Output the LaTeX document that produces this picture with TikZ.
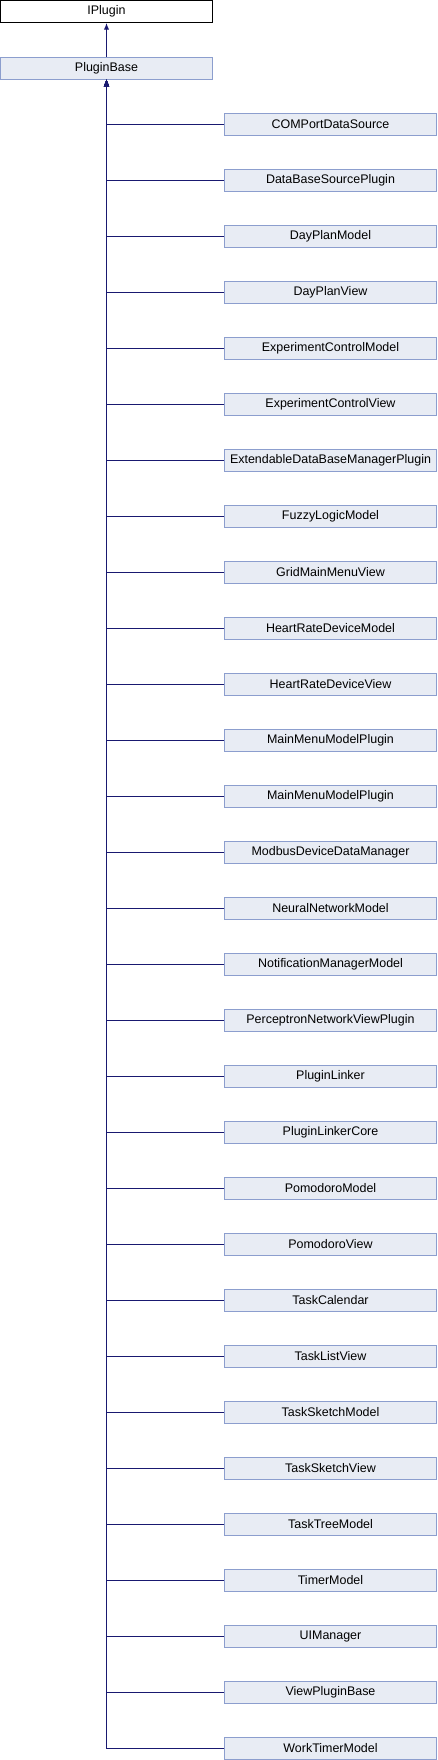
\documentclass[tikz,border=0pt]{standalone}
\usepackage{xcolor}
\usepackage{fontspec}
\setmainfont{Liberation Sans}
\usepackage{tikz}
\usetikzlibrary{arrows.meta}

\definecolor{clsfill}{RGB}{232,236,244}
\definecolor{clsdraw}{RGB}{140,158,206}
\definecolor{edgeblue}{RGB}{25,25,112}

\begin{document}
\begin{tikzpicture}[x=0.75pt,y=0.75pt,yscale=-1,xscale=1,
  iface/.style={draw=black,fill=white,line width=0.75pt,minimum width=159pt,minimum height=16.5pt,inner sep=0pt,font=\fontsize{9.35}{11}\selectfont},
  cls/.style={draw=clsdraw,fill=clsfill,line width=0.75pt,minimum width=159pt,minimum height=16.5pt,inner sep=0pt,font=\fontsize{9.35}{11}\selectfont},
  edge/.style={draw=edgeblue,line width=0.75pt,-{Latex[length=5pt,width=4pt]}}]
\useasboundingbox (0,0) rectangle (438,1760);

% Text Node
\node [iface] (iplugin) at (106.5,11.5) {IPlugin};
% Text Node
\node [cls] (pluginbase) at (106.5,68) {PluginBase};

% Text Node
\node [cls] (c1) at (330.5,124) {COMPortDataSource};
\node [cls] (c2) at (330.5,180) {DataBaseSourcePlugin};
\node [cls] (c3) at (330.5,236) {DayPlanModel};
\node [cls] (c4) at (330.5,292) {DayPlanView};
\node [cls] (c5) at (330.5,348) {ExperimentControlModel};
\node [cls] (c6) at (330.5,404) {ExperimentControlView};
\node [cls] (c7) at (330.5,460) {ExtendableDataBaseManagerPlugin};
\node [cls] (c8) at (330.5,516) {FuzzyLogicModel};
\node [cls] (c9) at (330.5,572) {GridMainMenuView};
\node [cls] (c10) at (330.5,628) {HeartRateDeviceModel};
\node [cls] (c11) at (330.5,684) {HeartRateDeviceView};
\node [cls] (c12) at (330.5,740) {MainMenuModelPlugin};
\node [cls] (c13) at (330.5,796) {MainMenuModelPlugin};
\node [cls] (c14) at (330.5,852) {ModbusDeviceDataManager};
\node [cls] (c15) at (330.5,908) {NeuralNetworkModel};
\node [cls] (c16) at (330.5,964) {NotificationManagerModel};
\node [cls] (c17) at (330.5,1020) {PerceptronNetworkViewPlugin};
\node [cls] (c18) at (330.5,1076) {PluginLinker};
\node [cls] (c19) at (330.5,1132) {PluginLinkerCore};
\node [cls] (c20) at (330.5,1188) {PomodoroModel};
\node [cls] (c21) at (330.5,1244) {PomodoroView};
\node [cls] (c22) at (330.5,1300) {TaskCalendar};
\node [cls] (c23) at (330.5,1356) {TaskListView};
\node [cls] (c24) at (330.5,1412) {TaskSketchModel};
\node [cls] (c25) at (330.5,1468) {TaskSketchView};
\node [cls] (c26) at (330.5,1524) {TaskTreeModel};
\node [cls] (c27) at (330.5,1580) {TimerModel};
\node [cls] (c28) at (330.5,1636) {UIManager};
\node [cls] (c29) at (330.5,1692) {ViewPluginBase};
\node [cls] (c30) at (330.5,1748) {WorkTimerModel};

%Straight Lines
\draw [edge] (pluginbase) -- (iplugin);
\foreach \i in {1,...,30}
  \draw [edge] (c\i.west) -| (pluginbase.south);

\end{tikzpicture}
\end{document}
